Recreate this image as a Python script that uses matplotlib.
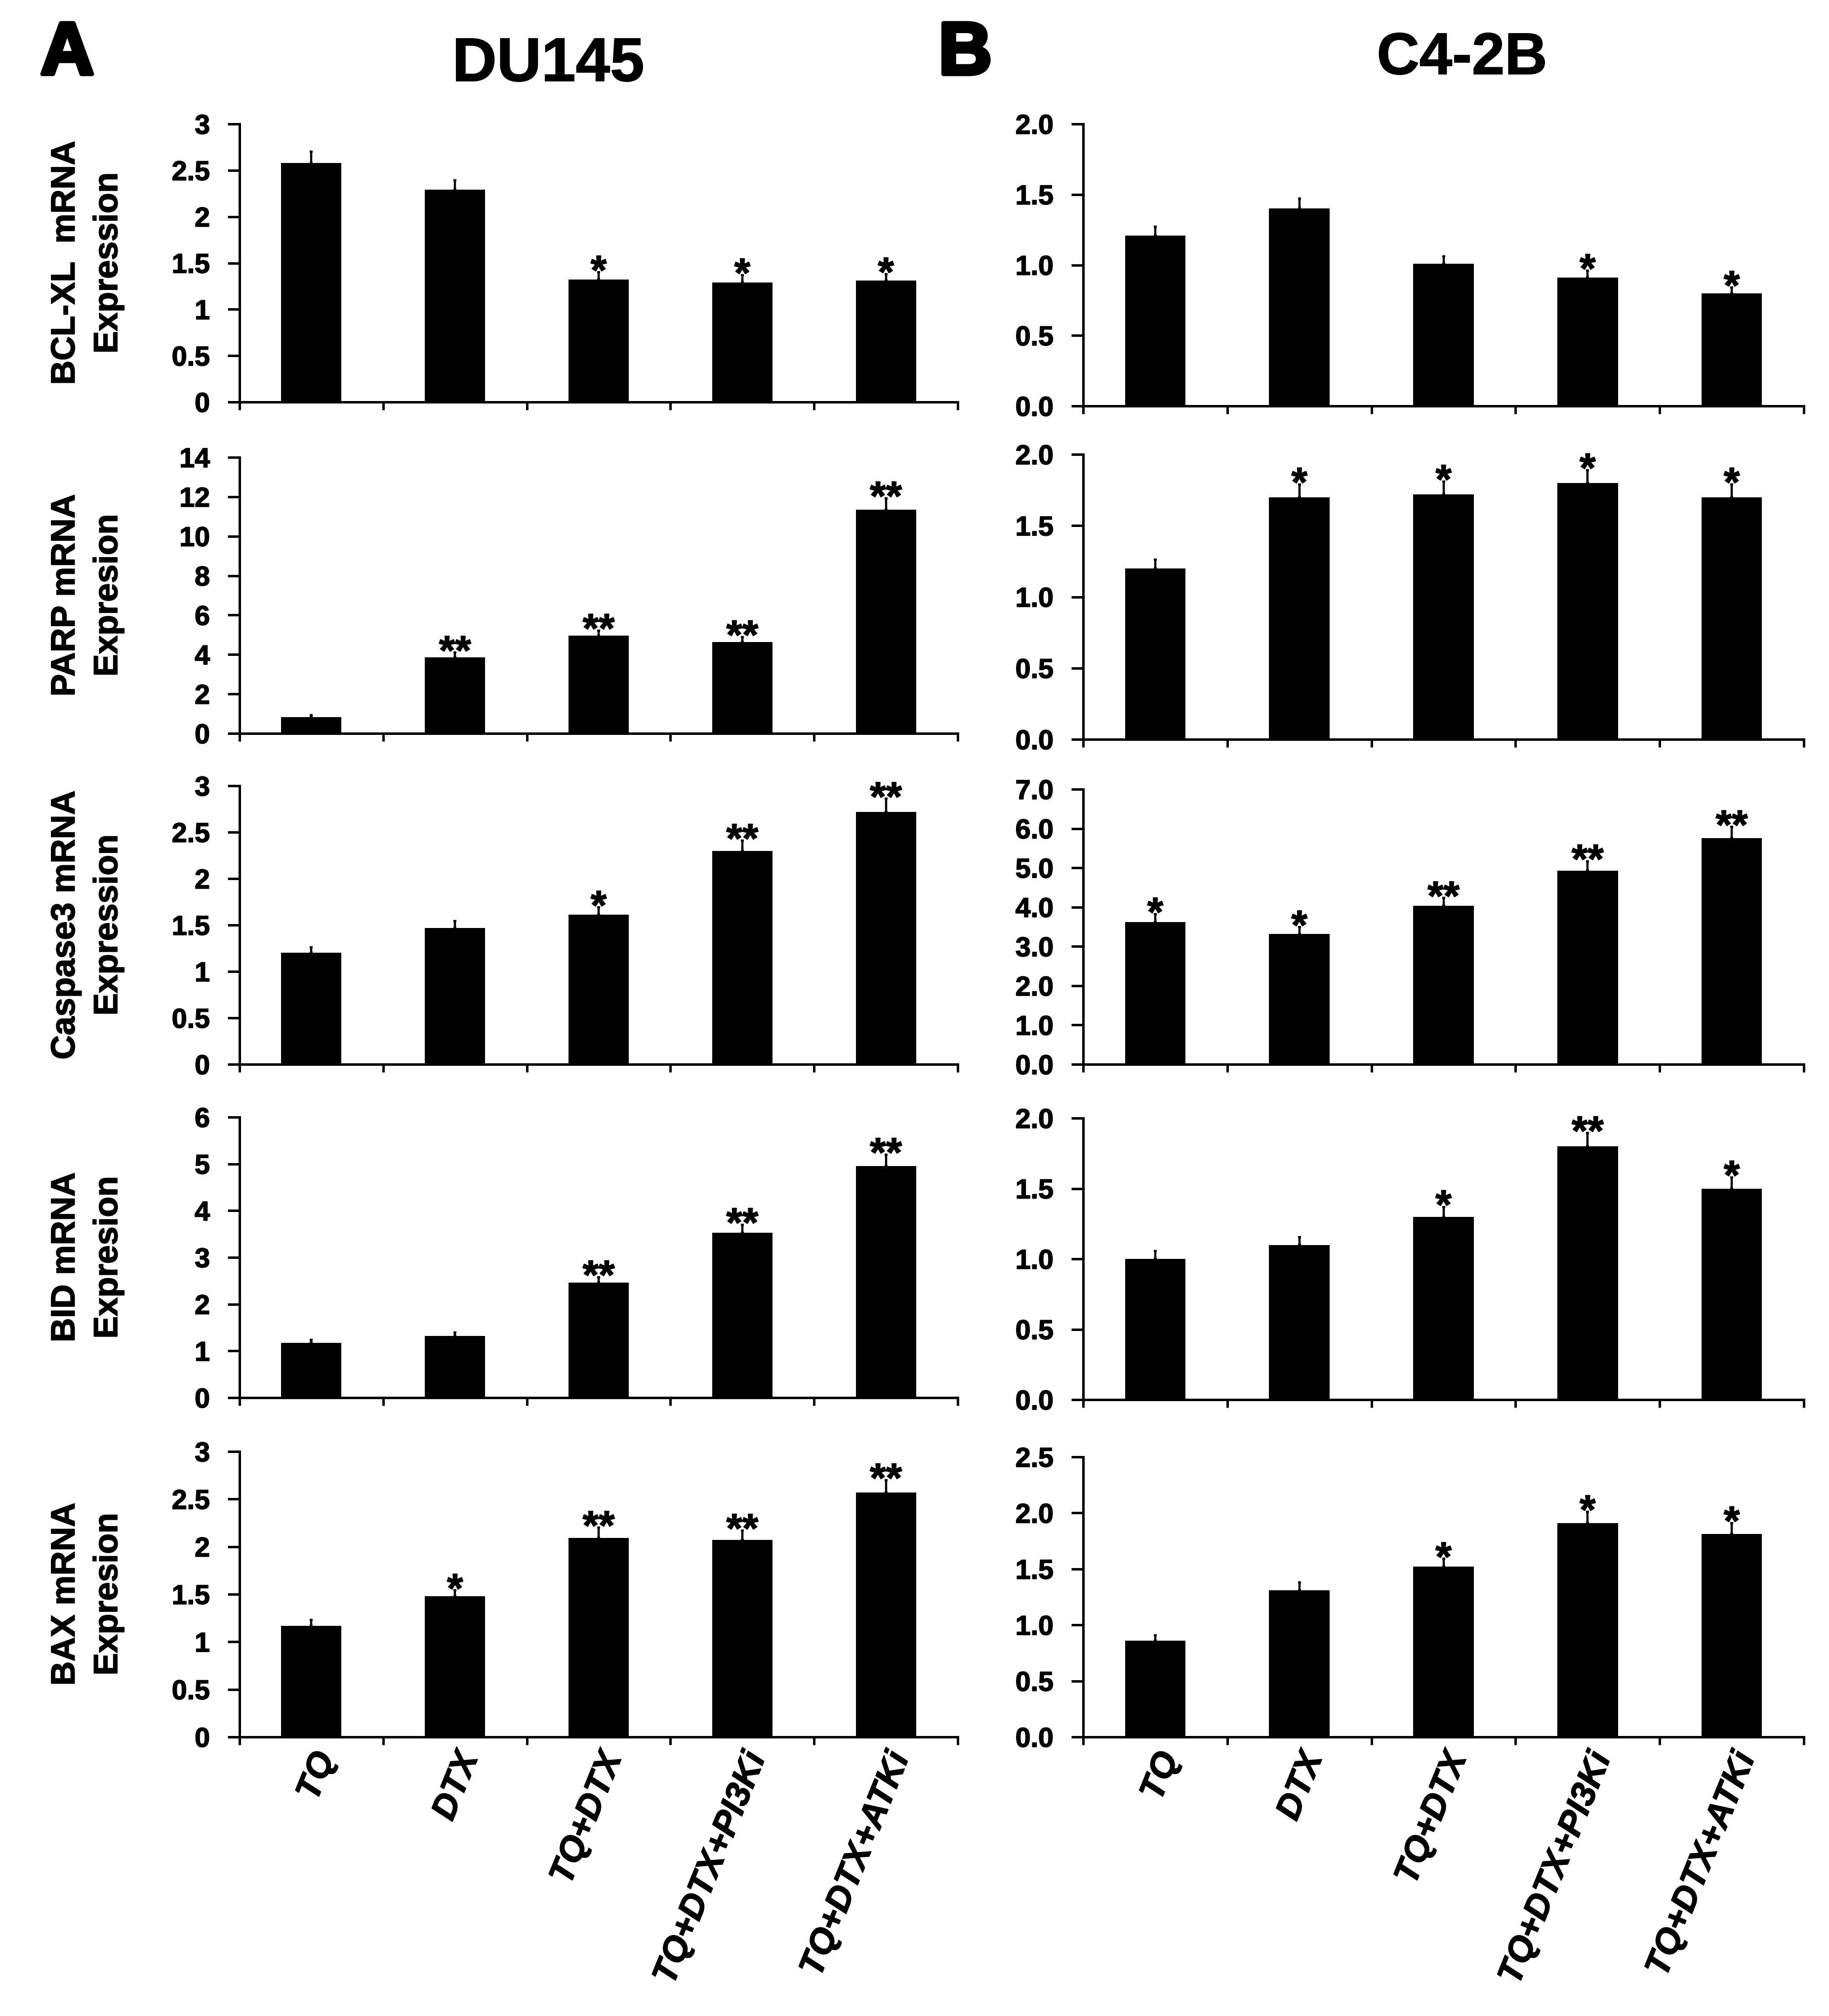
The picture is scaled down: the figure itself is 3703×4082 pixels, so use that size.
import matplotlib
matplotlib.use("Agg")
import matplotlib.pyplot as plt
import matplotlib.patheffects as pe
import numpy as np

plt.rcParams['font.family'] = ['Liberation Sans', 'DejaVu Sans']
plt.rcParams['font.weight'] = 'bold'

categories = ["TQ", "DTX", "TQ+DTX", "TQ+DTX+PI3Ki", "TQ+DTX+ATKi"]

# ---- DU145 (panel A) ----
du145_bclxl = [2.58, 2.29, 1.32, 1.29, 1.31]
du145_bclxl_err = [0.12, 0.10, 0.08, 0.08, 0.07]
du145_bclxl_sig = ["", "", "*", "*", "*"]

du145_parp = [0.83, 3.86, 4.97, 4.63, 11.34]
du145_parp_err = [0.09, 0.24, 0.25, 0.26, 0.59]
du145_parp_sig = ["", "**", "**", "**", "**"]

du145_casp3 = [1.20, 1.47, 1.61, 2.30, 2.72]
du145_casp3_err = [0.06, 0.07, 0.08, 0.11, 0.14]
du145_casp3_sig = ["", "", "*", "**", "**"]

du145_bid = [1.17, 1.32, 2.46, 3.53, 4.95]
du145_bid_err = [0.07, 0.07, 0.12, 0.17, 0.25]
du145_bid_sig = ["", "", "**", "**", "**"]

du145_bax = [1.17, 1.48, 2.09, 2.07, 2.57]
du145_bax_err = [0.06, 0.06, 0.11, 0.10, 0.13]
du145_bax_sig = ["", "*", "**", "**", "**"]

# ---- C4-2B (panel B) ----
c42b_bclxl = [1.21, 1.40, 1.01, 0.91, 0.80]
c42b_bclxl_err = [0.06, 0.07, 0.05, 0.05, 0.04]
c42b_bclxl_sig = ["", "", "", "*", "*"]

c42b_parp = [1.20, 1.70, 1.72, 1.80, 1.70]
c42b_parp_err = [0.06, 0.09, 0.09, 0.09, 0.09]
c42b_parp_sig = ["", "*", "*", "*", "*"]

c42b_casp3 = [3.62, 3.32, 4.03, 4.93, 5.76]
c42b_casp3_err = [0.20, 0.17, 0.20, 0.24, 0.28]
c42b_casp3_sig = ["*", "*", "**", "**", "**"]

c42b_bid = [1.00, 1.10, 1.30, 1.80, 1.50]
c42b_bid_err = [0.055, 0.055, 0.07, 0.095, 0.08]
c42b_bid_sig = ["", "", "*", "**", "*"]

c42b_bax = [0.86, 1.31, 1.52, 1.91, 1.81]
c42b_bax_err = [0.05, 0.07, 0.07, 0.10, 0.10]
c42b_bax_sig = ["", "", "*", "*", "*"]

ylabels = ["BCL-XL  mRNA\nExpression", "PARP mRNA\nExpresion",
           "Caspase3 mRNA\nExpression", "BID mRNA\nExpresion",
           "BAX mRNA\nExpresion"]

left_ticks = [np.arange(0, 3.01, 0.5), np.arange(0, 14.01, 2),
              np.arange(0, 3.01, 0.5), np.arange(0, 6.01, 1),
              np.arange(0, 3.01, 0.5)]
right_ticks = [np.arange(0, 2.01, 0.5), np.arange(0, 2.01, 0.5),
               np.arange(0, 7.01, 1), np.arange(0, 2.01, 0.5),
               np.arange(0, 2.51, 0.5)]

left_data = [(du145_bclxl, du145_bclxl_err, du145_bclxl_sig),
             (du145_parp, du145_parp_err, du145_parp_sig),
             (du145_casp3, du145_casp3_err, du145_casp3_sig),
             (du145_bid, du145_bid_err, du145_bid_sig),
             (du145_bax, du145_bax_err, du145_bax_sig)]
right_data = [(c42b_bclxl, c42b_bclxl_err, c42b_bclxl_sig),
              (c42b_parp, c42b_parp_err, c42b_parp_sig),
              (c42b_casp3, c42b_casp3_err, c42b_casp3_sig),
              (c42b_bid, c42b_bid_err, c42b_bid_sig),
              (c42b_bax, c42b_bax_err, c42b_bax_sig)]

W, H = 3703, 4082
DPI = 100
fig = plt.figure(figsize=(W / DPI, H / DPI), dpi=DPI)

# layout in pixels (top, bottom) per row
left_rows = [(251, 814), (926, 1485), (1591, 2155), (2262, 2830), (2939, 3517)]
right_rows = [(251, 822), (920, 1497), (1598, 2155), (2264, 2834), (2950, 3517)]
left_x = (485, 1939)
right_x = (2193, 3652)

PT = 72.0 / DPI  # points per pixel
thick = [pe.withStroke(linewidth=1.2, foreground='black')]


def fmt_left(v):
    return ("%g" % v)


def fmt_right(v):
    return ("%.1f" % v)


def make_panel(xr, yr, data, ticks, fmt, bottom, ylabel=None):
    x0, x1 = xr
    t, b = yr
    ax = fig.add_axes([x0 / W, 1 - b / H, (x1 - x0) / W, (b - t) / H])
    vals, errs, sigs = data
    xs = np.arange(len(categories))
    ax.bar(xs, vals, width=0.42, color='black', zorder=2)
    ax.errorbar(xs, vals, yerr=[np.zeros(len(vals)), errs], fmt='none',
                ecolor='black', elinewidth=3.2, capsize=2.5, capthick=3.2,
                zorder=3)
    for i, (v, e, s) in enumerate(zip(vals, errs, sigs)):
        if s:
            ax.annotate(s, xy=(i, v + e), xytext=(0, -24),
                        textcoords='offset pixels', ha='center',
                        va='baseline', fontsize=60, fontweight='bold',
                        path_effects=thick)
    ax.set_xlim(-0.5, len(categories) - 0.5)
    ax.set_ylim(0, ticks[-1])
    ax.set_yticks(ticks)
    ax.set_yticklabels([fmt(v) for v in ticks])
    for sp in ['top', 'right']:
        ax.spines[sp].set_visible(False)
    for sp in ['left', 'bottom']:
        ax.spines[sp].set_linewidth(3.6)
    ax.spines['left'].set_bounds(0, ticks[-1])
    ax.tick_params(axis='y', direction='out', length=24 * PT, width=3.6,
                   pad=36 * PT, labelsize=40)
    ax.set_xticks(xs)
    ax.set_xticks(np.arange(-0.5, len(categories)), minor=True)
    ax.tick_params(axis='x', which='minor', direction='out',
                   length=16 * PT, width=3.6)
    ax.tick_params(axis='x', which='major', length=0, pad=22 * PT)
    if bottom:
        ax.set_xticklabels(categories, rotation=68, ha='right', va='top',
                           rotation_mode='anchor', fontstyle='italic',
                           fontsize=51, fontweight='bold')
        for lab in ax.get_xticklabels():
            lab.set_path_effects(thick)
    else:
        ax.set_xticklabels([])
    for lab in ax.get_yticklabels():
        lab.set_fontweight('bold')
        lab.set_path_effects(thick)
    if ylabel:
        xc = (176 - x0) / (x1 - x0)
        ax.text(xc, 0.5, ylabel, transform=ax.transAxes, rotation=90,
                ha='center', va='center', multialignment='center',
                fontsize=49, fontweight='bold', linespacing=1.45,
                path_effects=thick)
    return ax


for r in range(5):
    make_panel(left_x, left_rows[r], left_data[r], left_ticks[r], fmt_left,
               r == 4, ylabels[r])
    make_panel(right_x, right_rows[r], right_data[r], right_ticks[r],
               fmt_right, r == 4)

heavy = [pe.withStroke(linewidth=6, foreground='black')]
fig.text(82 / W, 1 - 150 / H, "A", ha='left', va='baseline',
         fontsize=108, fontweight='bold', path_effects=heavy)
fig.text(1900 / W, 1 - 150 / H, "B", ha='left', va='baseline',
         fontsize=108, fontweight='bold', path_effects=heavy)
fig.text(1110 / W, 1 - 164 / H, "DU145", ha='center', va='baseline',
         fontsize=90, fontweight='bold', path_effects=thick)
fig.text(2960 / W, 1 - 150 / H, "C4-2B", ha='center', va='baseline',
         fontsize=86, fontweight='bold', path_effects=thick)

fig.savefig("out.png", dpi=DPI, facecolor='white')
